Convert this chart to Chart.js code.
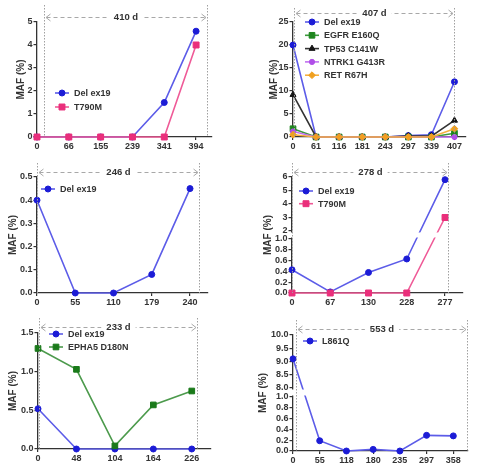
<!DOCTYPE html>
<html><head><meta charset="utf-8">
<script src="https://cdn.jsdelivr.net/npm/chart.js@4.4.1/dist/chart.umd.min.js"></script>
<style>
html,body{margin:0;padding:0;background:#fff;}
#wrap{position:relative;width:483px;height:472px;overflow:hidden;background:#fff;}
canvas{position:absolute;}
</style></head><body><div id="wrap">
<canvas id="c1" width="241" height="152" style="left:0;top:0"></canvas>
<canvas id="c2" width="242" height="152" style="left:241px;top:0"></canvas>
<canvas id="c3" width="241" height="155" style="left:0;top:152px"></canvas>
<canvas id="c4" width="242" height="155" style="left:241px;top:152px"></canvas>
<canvas id="c5" width="241" height="165" style="left:0;top:307px"></canvas>
<canvas id="c6" width="242" height="165" style="left:241px;top:307px"></canvas>
</div>
<script>
// ---------------- DATA ----------------
const p1Days = ['0','66','155','239','341','394'];
const p1DelEx19 = [0, 0, 0, 0, 1.5, 4.6];
const p1T790M = [0, 0, 0, 0, 0, 4.0];
const p1YTicks = [0, 1, 2, 3, 4, 5];
const p1YLabels = ['0','1','2','3','4','5'];
const p1Span = '410 d';

const p2Days = ['0','61','116','181','243','297','339','407'];
const p2DelEx19 = [20, 0, 0, 0, 0, 0.3, 0.5, 12];
const p2EGFR = [1.8, 0, 0, 0, 0, 0, 0, 0.8];
const p2TP53 = [9.2, 0, 0, 0, 0, 0.2, 0.2, 3.6];
const p2NTRK1 = [1.2, 0, 0, 0, 0, 0, 0, 0];
const p2RET = [0.5, 0, 0, 0, 0, 0, 0, 1.8];
const p2YTicks = [0, 5, 10, 15, 20, 25];
const p2YLabels = ['0','5','10','15','20','25'];
const p2Span = '407 d';

const p3Days = ['0','55','110','179','240'];
const p3DelEx19 = [0.4, 0, 0, 0.08, 0.45];
const p3YTicks = [0, 0.1, 0.2, 0.3, 0.4, 0.5];
const p3YLabels = ['0.0','0.1','0.2','0.3','0.4','0.5'];
const p3Span = '246 d';

const p4Days = ['0','67','130','228','277'];
const p4DelEx19 = [0.43, 0.02, 0.38, 0.63, 5.8];
const p4T790M = [0, 0, 0, 0, 3.0];
const p4YTicks = [0, 0.2, 0.4, 0.6, 0.8, 1.0, 2, 3, 4, 5, 6];
const p4YLabels = ['0.0','0.2','0.4','0.6','0.8','1.0','2','3','4','5','6'];
const p4Span = '278 d';

const p5Days = ['0','48','104','164','226'];
const p5DelEx19 = [0.52, 0, 0, 0, 0];
const p5EPHA5 = [1.3, 1.03, 0.04, 0.57, 0.75];
const p5YTicks = [0, 0.5, 1.0, 1.5];
const p5YLabels = ['0.0','0.5','1.0','1.5'];
const p5Span = '233 d';

const p6Days = ['0','55','118','180','235','297','358'];
const p6L861Q = [9.1, 0.19, 0, 0.03, 0, 0.29, 0.28];
const p6YTicks = [0, 0.2, 0.4, 0.6, 0.8, 1.0, 8.0, 8.5, 9.0, 9.5, 10.0];
const p6YLabels = ['0.0','0.2','0.4','0.6','0.8','1.0','8.0','8.5','9.0','9.5','10.0'];
const p6Span = '553 d';

// ---------------- STYLES ----------------
const FONT = "'Liberation Sans', Arial, sans-serif";
const TXT = '#333333';
const AX = '#333333';
const stDel   = {line:'#5c5ce8', point:'#1c1cd6', style:'circle',   r:3};
const stT790  = {line:'#ef5a97', point:'#ea2f7b', style:'rect',     r:4.2};
const stEGFR  = {line:'#3d9a3d', point:'#1e861e', style:'rect',     r:4};
const stTP53  = {line:'#333333', point:'#151515', style:'triangle', r:3.5};
const stNTRK  = {line:'#c070f0', point:'#b04ee8', style:'circle',   r:2.6};
const stRET   = {line:'#f5b040', point:'#f0a020', style:'rectRot',  r:3.4};
const stEPHA  = {line:'#4c9a4c', point:'#1a7a1a', style:'rect',     r:4};

// ---------------- BROKEN AXIS SCALE ----------------
class BrokenLinearScale extends Chart.LinearScale {
  _dec(value) {
    const o = this.options.brk;
    const lowFrac = o.lowFrac, gapFrac = o.gapFrac;
    if (value <= o.lowMax) return (value - this.min) / (o.lowMax - this.min) * lowFrac;
    if (value >= o.highMin) return lowFrac + gapFrac + (value - o.highMin) / (this.max - o.highMin) * (1 - lowFrac - gapFrac);
    return lowFrac + (value - o.lowMax) / (o.highMin - o.lowMax) * gapFrac;
  }
  getPixelForValue(value) {
    if (value === null || value === undefined || isNaN(value)) return NaN;
    return this.getPixelForDecimal(this._dec(value));
  }
  getValueForPixel(pixel) {
    const o = this.options.brk;
    const d = this.getDecimalForPixel(pixel);
    if (d <= o.lowFrac) return this.min + d / o.lowFrac * (o.lowMax - this.min);
    if (d >= o.lowFrac + o.gapFrac) return o.highMin + (d - o.lowFrac - o.gapFrac) / (1 - o.lowFrac - o.gapFrac) * (this.max - o.highMin);
    return o.lowMax + (d - o.lowFrac) / o.gapFrac * (o.highMin - o.lowMax);
  }
}
BrokenLinearScale.id = 'brokenLinear';
Chart.register(BrokenLinearScale);

// ---------------- HELPERS ----------------
function drawMarker(ctx, style, x, y, r, color) {
  ctx.save();
  ctx.fillStyle = color; ctx.strokeStyle = color; ctx.lineWidth = 1;
  ctx.setLineDash([]);
  ctx.beginPath();
  if (style === 'rect') { const s = r * Math.SQRT1_2; ctx.rect(x - s, y - s, 2 * s, 2 * s); }
  else if (style === 'rectRot') { ctx.moveTo(x, y - r); ctx.lineTo(x + r, y); ctx.lineTo(x, y + r); ctx.lineTo(x - r, y); ctx.closePath(); }
  else if (style === 'triangle') { ctx.moveTo(x, y - r); ctx.lineTo(x + r * 0.866, y + r * 0.5); ctx.lineTo(x - r * 0.866, y + r * 0.5); ctx.closePath(); }
  else { ctx.arc(x, y, r, 0, Math.PI * 2); }
  ctx.fill(); ctx.stroke();
  ctx.restore();
}

function makePanel(id, cfg) {
  const canvas = document.getElementById(id);
  const W = canvas.width, H = canvas.height;
  const n = cfg.series.length;
  const datasets = cfg.series.map((s, i) => ({
    label: s.label,
    data: s.values.map((v, j) => ({x: j, y: v})),
    borderColor: s.st.line,
    backgroundColor: s.st.point,
    pointBackgroundColor: s.st.point,
    pointBorderColor: s.st.point,
    pointStyle: s.st.style,
    pointRadius: s.st.r,
    pointHoverRadius: s.st.r,
    pointBorderWidth: 1,
    borderWidth: 1.6,
    tension: 0,
    clip: false,
    order: n - 1 - i
  }));
  const tickFont = {family: FONT, size: 9, weight: 'bold'};
  const titleFont = {family: FONT, size: 10, weight: 'bold'};
  const plugin = {
    id: 'deco_' + id,
    afterDatasetsDraw(chart) {
      if (!cfg.brk) return;
      const {ctx, chartArea: a, scales: {y}} = chart;
      const y1 = y.getPixelForValue(cfg.brk.highMin) + 1.5;
      const y2 = y.getPixelForValue(cfg.brk.lowMax) - 1.5;
      ctx.save();
      ctx.fillStyle = '#ffffff';
      ctx.fillRect(a.left - 2, y1, a.right - a.left + 12, y2 - y1);
      ctx.restore();
    },
    afterDraw(chart) {
      const {ctx, chartArea: a, scales: {x}} = chart;
      const xl = Math.round(x.getPixelForValue(cfg.span.from)) + 0.5;
      const xr = Math.round(x.getPixelForValue(cfg.span.to)) + 0.5;
      const yTop = a.top - cfg.span.vTop;
      const yArr = Math.round(a.top - cfg.span.arrowUp) + 0.5;
      ctx.save();
      ctx.strokeStyle = '#a0a0a0'; ctx.lineWidth = 1; ctx.setLineDash([1.5, 1.5]);
      [xl, xr].forEach(px => { ctx.beginPath(); ctx.moveTo(px, yTop); ctx.lineTo(px, a.bottom); ctx.stroke(); });
      ctx.strokeStyle = '#a8a8a8'; ctx.setLineDash([4, 3]);
      ctx.beginPath(); ctx.moveTo(xl + 2, yArr); ctx.lineTo(xr - 2, yArr); ctx.stroke();
      ctx.setLineDash([]);
      ctx.beginPath();
      ctx.moveTo(xl + 6, yArr - 3.5); ctx.lineTo(xl + 1.5, yArr); ctx.lineTo(xl + 6, yArr + 3.5);
      ctx.moveTo(xr - 6, yArr - 3.5); ctx.lineTo(xr - 1.5, yArr); ctx.lineTo(xr - 6, yArr + 3.5);
      ctx.stroke();
      ctx.font = 'bold 9.5px ' + FONT;
      const tw = ctx.measureText(cfg.span.text).width;
      const cx = (xl + xr) / 2;
      ctx.fillStyle = '#ffffff';
      ctx.fillRect(cx - tw / 2 - 5, yArr - 5, tw + 10, 10);
      ctx.fillStyle = TXT; ctx.textAlign = 'center'; ctx.textBaseline = 'middle';
      ctx.fillText(cfg.span.text, cx, yArr);
      const L = cfg.legend;
      ctx.font = 'bold 9px ' + FONT; ctx.textAlign = 'left';
      cfg.series.forEach((s, i) => {
        const mx = a.left + L.x, my = a.top + L.y + i * L.dy;
        ctx.strokeStyle = s.st.line; ctx.lineWidth = 1.6;
        ctx.beginPath(); ctx.moveTo(mx - 7, my); ctx.lineTo(mx + 7, my); ctx.stroke();
        drawMarker(ctx, s.st.style, mx, my, s.st.r, s.st.point);
        ctx.fillStyle = TXT;
        ctx.fillText(s.label, mx + 12, my + 0.5);
      });
      ctx.restore();
    }
  };
  const yScale = {
    type: cfg.brk ? 'brokenLinear' : 'linear',
    min: cfg.yTicks[0],
    max: cfg.yTicks[cfg.yTicks.length - 1],
    afterBuildTicks: s => { s.ticks = cfg.yTicks.map(v => ({value: v})); },
    afterFit: s => { s.width = cfg.area.left; },
    ticks: {autoSkip: false, callback: (v, i) => cfg.yLabels[i], font: tickFont, color: TXT, padding: 1},
    grid: {drawOnChartArea: false, drawTicks: true, tickLength: 3.5, color: AX, lineWidth: 1.2},
    border: {display: true, color: AX, width: 1.3},
    title: {display: true, text: 'MAF (%)', font: titleFont, color: TXT, padding: {top: cfg.titleX - 6, bottom: 0}}
  };
  if (cfg.brk) yScale.brk = cfg.brk;
  return new Chart(canvas, {
    type: 'line',
    data: {datasets},
    options: {
      responsive: false,
      animation: false,
      events: [],
      layout: {padding: {top: cfg.area.top, right: W - cfg.area.right, left: 0, bottom: 0}},
      plugins: {legend: {display: false}, tooltip: {enabled: false}},
      scales: {
        x: {
          type: 'linear', min: 0, max: cfg.xMax,
          afterBuildTicks: s => { s.ticks = cfg.days.map((_, i) => ({value: i})); },
          afterFit: s => { s.height = H - cfg.area.bottom; },
          ticks: {autoSkip: false, maxRotation: 0, callback: (v, i) => cfg.days[i], font: tickFont, color: TXT, padding: 1},
          grid: {drawOnChartArea: false, drawTicks: true, tickLength: 3, color: AX, lineWidth: 1.2},
          border: {display: true, color: AX, width: 1.3}
        },
        y: yScale
      }
    },
    plugins: [plugin]
  });
}

// ---------------- PANELS ----------------
makePanel('c1', {
  days: p1Days, yTicks: p1YTicks, yLabels: p1YLabels, xMax: 5.5,
  area: {left: 37, top: 22, right: 212, bottom: 137}, titleX: 21,
  span: {text: p1Span, from: 0.22, to: 5.35, vTop: 17, arrowUp: 5},
  legend: {x: 25, y: 71, dy: 14},
  series: [{label: 'Del ex19', values: p1DelEx19, st: stDel}, {label: 'T790M', values: p1T790M, st: stT790}]
});
makePanel('c2', {
  days: p2Days, yTicks: p2YTicks, yLabels: p2YLabels, xMax: 7.5,
  area: {left: 52, top: 22, right: 225, bottom: 137}, titleX: 33,
  span: {text: p2Span, from: 0.05, to: 7.0, vTop: 14, arrowUp: 9},
  legend: {x: 19, y: 0, dy: 13.3},
  series: [
    {label: 'Del ex19', values: p2DelEx19, st: stDel},
    {label: 'EGFR E160Q', values: p2EGFR, st: stEGFR},
    {label: 'TP53 C141W', values: p2TP53, st: stTP53},
    {label: 'NTRK1 G413R', values: p2NTRK1, st: stNTRK},
    {label: 'RET R67H', values: p2RET, st: stRET}
  ]
});
makePanel('c3', {
  days: p3Days, yTicks: p3YTicks, yLabels: p3YLabels, xMax: 4.47,
  area: {left: 37, top: 25, right: 208, bottom: 141}, titleX: 13,
  span: {text: p3Span, from: 0, to: 4.23, vTop: 14, arrowUp: 5},
  legend: {x: 11, y: 12, dy: 13},
  series: [{label: 'Del ex19', values: p3DelEx19, st: stDel}]
});
makePanel('c4', {
  days: p4Days, yTicks: p4YTicks, yLabels: p4YLabels, xMax: 4.47,
  area: {left: 51, top: 25, right: 222, bottom: 141}, titleX: 27,
  brk: {lowMax: 1.0, highMin: 2, lowFrac: 54 / 116, gapFrac: 8 / 116},
  span: {text: p4Span, from: 0, to: 4.08, vTop: 14, arrowUp: 5},
  legend: {x: 14, y: 14, dy: 12.7},
  series: [{label: 'Del ex19', values: p4DelEx19, st: stDel}, {label: 'T790M', values: p4T790M, st: stT790}]
});
makePanel('c5', {
  days: p5Days, yTicks: p5YTicks, yLabels: p5YLabels, xMax: 4.5,
  area: {left: 38, top: 26, right: 211, bottom: 142}, titleX: 13,
  span: {text: p5Span, from: 0.03, to: 4.13, vTop: 15, arrowUp: 6},
  legend: {x: 18, y: 1, dy: 13},
  series: [{label: 'Del ex19', values: p5DelEx19, st: stDel}, {label: 'EPHA5 D180N', values: p5EPHA5, st: stEPHA}]
});
makePanel('c6', {
  days: p6Days, yTicks: p6YTicks, yLabels: p6YLabels, xMax: 6.55,
  area: {left: 52, top: 28, right: 227, bottom: 144}, titleX: 22,
  brk: {lowMax: 1.0, highMin: 8.0, lowFrac: 54 / 116, gapFrac: 9 / 116},
  span: {text: p6Span, from: 0.1, to: 6.5, vTop: 15, arrowUp: 6},
  legend: {x: 17, y: 6, dy: 13},
  series: [{label: 'L861Q', values: p6L861Q, st: stDel}]
});
</script>
</body></html>
